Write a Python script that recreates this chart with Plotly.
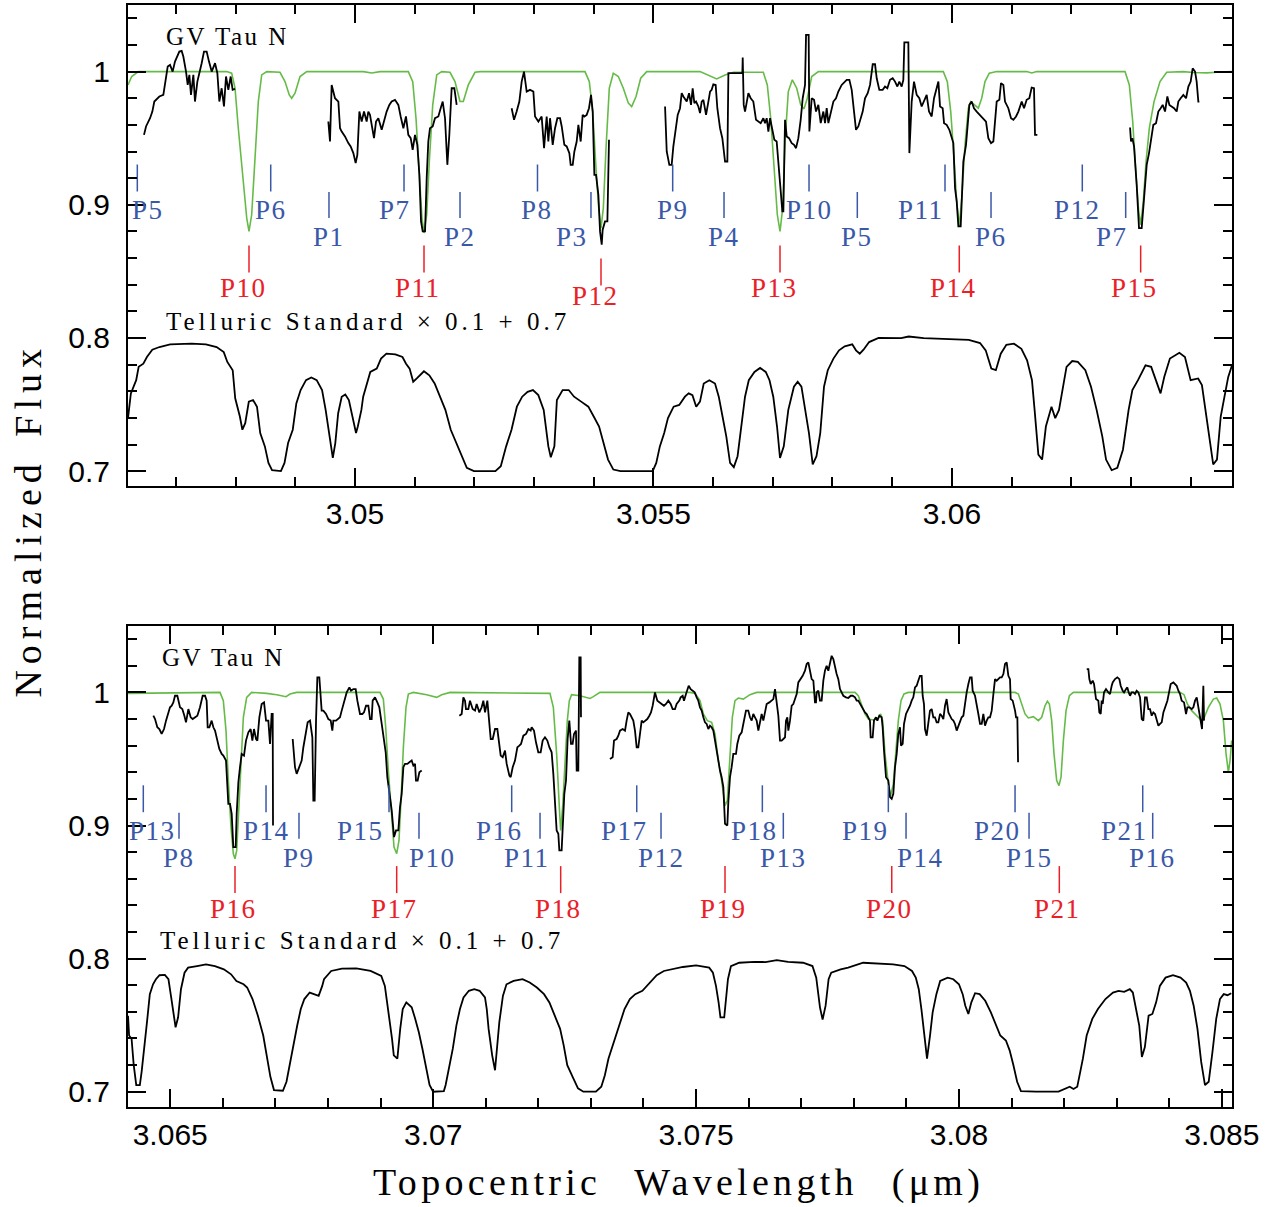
import plotly.graph_objects as go

# ----------------------------------------------------------------- data
# GV Tau N spectrum, top panel (wavelength um, normalized flux); one list per contiguous piece
top_star_1 = [(3.046466,0.9525),(3.046500,0.9588),(3.046567,0.965),(3.046606,0.97),(3.046639,0.9775),(3.046689,0.98),(3.046723,0.9813),(3.046790,0.9825),(3.046829,0.995),(3.046863,1.0038),(3.046902,1.005),(3.046946,1.0),(3.046985,1.0075),(3.047024,1.0113),(3.047058,1.015),(3.047097,1.0155),(3.047125,1.0113),(3.047170,1.0),(3.047198,0.99),(3.047226,0.9975),(3.047253,0.9825),(3.047293,0.9975),(3.047320,0.9775),(3.047360,0.9925),(3.047404,1.0),(3.047432,1.0063),(3.047471,1.015),(3.047516,1.015),(3.047555,1.0075),(3.047600,1.0),(3.047656,1.0063),(3.047695,0.9988),(3.047728,0.9775),(3.047767,0.9875),(3.047806,0.9738),(3.047840,0.9963),(3.047879,0.9863),(3.047918,0.9963),(3.047951,0.9863),(3.047991,0.987)]
top_star_2 = [(3.049554,0.9625),(3.049582,0.9475),(3.049610,0.99),(3.049666,0.98),(3.049722,0.9775),(3.049750,0.9575),(3.049778,0.955),(3.049833,0.9513),(3.049889,0.9463),(3.049928,0.9438),(3.049973,0.9388),(3.050012,0.9313),(3.050040,0.9375),(3.050074,0.97),(3.050113,0.9625),(3.050152,0.97),(3.050196,0.9625),(3.050224,0.97),(3.050252,0.9675),(3.050291,0.9575),(3.050319,0.95),(3.050353,0.9625),(3.050392,0.965),(3.050448,0.9563),(3.050487,0.9625),(3.050531,0.97),(3.050576,0.975),(3.050615,0.9775),(3.050671,0.9788),(3.050727,0.975),(3.050766,0.9663),(3.050811,0.9575),(3.050855,0.9663),(3.050894,0.9525),(3.050934,0.95),(3.050967,0.9413),(3.051006,0.9525),(3.051045,0.945),(3.051079,0.9225),(3.051107,0.8875),(3.051135,0.88),(3.051174,0.88),(3.051202,0.92),(3.051229,0.9475),(3.051257,0.9575),(3.051302,0.9588),(3.051341,0.965),(3.051397,0.9663),(3.051436,0.9725),(3.051470,0.9775),(3.051509,0.965),(3.051548,0.93),(3.051581,0.9525),(3.051620,0.9875),(3.051665,0.9875),(3.051704,0.975)]
top_star_3 = [(3.052625,0.9725),(3.052665,0.9638),(3.052709,0.97),(3.052754,0.9775),(3.052793,0.9925),(3.052832,1.0),(3.052877,0.985),(3.052933,0.9863),(3.052989,0.985),(3.053017,0.9663),(3.053073,0.9625),(3.053128,0.9663),(3.053168,0.9425),(3.053212,0.9663),(3.053240,0.9475),(3.053268,0.965),(3.053313,0.945),(3.053352,0.9575),(3.053391,0.965),(3.053436,0.965),(3.053464,0.9588),(3.053508,0.945),(3.053547,0.9438),(3.053592,0.9388),(3.053614,0.93),(3.053648,0.93),(3.053676,0.94),(3.053715,0.9475),(3.053743,0.96),(3.053782,0.9475),(3.053815,0.9675),(3.053843,0.9663),(3.053882,0.9675),(3.053921,0.9725),(3.053955,0.9825),(3.053983,0.97),(3.054011,0.9225),(3.054039,0.9225),(3.054078,0.9075),(3.054106,0.88),(3.054134,0.87),(3.054150,0.8813),(3.054189,0.8875),(3.054229,0.8875),(3.054256,0.9488)]
top_star_4 = [(3.055195,0.9738),(3.055223,0.94),(3.055267,0.93),(3.055306,0.93),(3.055334,0.9438),(3.055373,0.9575),(3.055407,0.9675),(3.055446,0.9725),(3.055474,0.9838),(3.055502,0.9813),(3.055530,0.9788),(3.055558,0.9775),(3.055597,0.9838),(3.055630,0.975),(3.055658,0.9875),(3.055686,0.9763),(3.055714,0.9775),(3.055753,0.9738),(3.055781,0.9688),(3.055809,0.9775),(3.055837,0.9788),(3.055882,0.9675),(3.055921,0.9775),(3.055949,0.985),(3.055976,0.9863),(3.056004,0.9905),(3.056043,0.99),(3.056071,0.9725),(3.056116,0.9575),(3.056155,0.95),(3.056200,0.9325),(3.056239,0.9325),(3.056256,0.9988),(3.056490,0.9988),(3.056496,1.0105),(3.056513,0.975),(3.056535,0.97),(3.056591,0.9838),(3.056630,0.98),(3.056674,0.9775),(3.056719,0.9638),(3.056758,0.9625),(3.056797,0.9613),(3.056842,0.965),(3.056870,0.9613),(3.056898,0.965),(3.056926,0.955),(3.056954,0.965),(3.056993,0.955),(3.057026,0.9488),(3.057065,0.9475),(3.057093,0.9325),(3.057132,0.9125),(3.057160,0.895),(3.057177,0.895),(3.057205,0.9638),(3.057233,0.9513),(3.057272,0.95),(3.057317,0.9463),(3.057356,0.945),(3.057389,0.9425),(3.057428,0.95),(3.057467,0.9638),(3.057501,0.98),(3.057540,0.99),(3.057557,1.0275),(3.057601,1.0275),(3.057613,0.955),(3.057652,0.98),(3.057691,0.9788),(3.057724,0.97),(3.057763,0.975),(3.057803,0.9613),(3.057847,0.97),(3.057875,0.9613),(3.057903,0.9725),(3.057931,0.9613),(3.057970,0.97),(3.058015,0.9775),(3.058059,0.98),(3.058098,0.985),(3.058154,0.99),(3.058199,0.9925),(3.058238,0.9938),(3.058283,0.9938),(3.058322,0.9863),(3.058361,0.97),(3.058394,0.9563),(3.058433,0.9588),(3.058473,0.965),(3.058506,0.97),(3.058545,0.98),(3.058590,0.9838),(3.058629,0.99),(3.058674,1.0055),(3.058713,1.0055),(3.058741,0.995),(3.058785,0.9863),(3.058841,0.9863),(3.058880,0.9888),(3.058919,0.9875),(3.058964,0.9938),(3.059009,0.995),(3.059048,0.9925),(3.059087,0.9888),(3.059120,0.9925),(3.059159,0.9888),(3.059187,0.9938),(3.059204,1.022),(3.059271,1.022),(3.059288,0.9388),(3.059327,0.9775),(3.059366,0.9925),(3.059411,0.9825),(3.059455,0.98),(3.059494,0.9738),(3.059534,0.9775),(3.059578,0.9825),(3.059617,0.97),(3.059662,0.9663),(3.059701,0.98),(3.059774,0.9925),(3.059802,0.9738),(3.059846,0.9725),(3.059869,0.9613),(3.059913,0.96),(3.059958,0.9563),(3.059997,0.9513),(3.060025,0.9463),(3.060053,0.9125),(3.060081,0.9025),(3.060109,0.8838),(3.060148,0.8838),(3.060165,0.9025),(3.060192,0.9325),(3.060237,0.945),(3.060265,0.9575),(3.060293,0.975),(3.060332,0.9775),(3.060371,0.9725),(3.060416,0.97),(3.060472,0.9675),(3.060527,0.965),(3.060572,0.9625),(3.060611,0.95),(3.060656,0.9463),(3.060695,0.9475),(3.060723,0.9625),(3.060751,0.9775),(3.060796,0.9788),(3.060823,0.9913),(3.060863,0.99),(3.060890,0.9775),(3.060946,0.9725),(3.060991,0.965),(3.061030,0.9638),(3.061075,0.9663),(3.061114,0.97),(3.061142,0.9738),(3.061170,0.9775),(3.061209,0.9725),(3.061253,0.9788),(3.061298,0.98),(3.061337,0.988),(3.061376,0.9875),(3.061393,0.9525),(3.061432,0.9525)]
top_star_5 = [(3.062985,0.958),(3.063001,0.9475),(3.063024,0.95),(3.063052,0.9438),(3.063096,0.915),(3.063135,0.8825),(3.063180,0.8825),(3.063208,0.9),(3.063236,0.9163),(3.063264,0.93),(3.063303,0.9388),(3.063336,0.95),(3.063375,0.96),(3.063420,0.9613),(3.063459,0.97),(3.063498,0.9725),(3.063532,0.975),(3.063571,0.97),(3.063610,0.9813),(3.063644,0.975),(3.063683,0.9738),(3.063722,0.9725),(3.063766,0.97),(3.063794,0.9775),(3.063833,0.98),(3.063878,0.9825),(3.063923,0.98),(3.063962,0.9888),(3.064001,0.9925),(3.064034,1.0025),(3.064074,1.0),(3.064101,0.9925),(3.064129,0.9775),(3.064146,0.9775)]

# GV Tau N spectrum, bottom panel
bot_star_1 = [(3.064679,0.9825),(3.064711,0.98),(3.064755,0.9738),(3.064793,0.9725),(3.064837,0.9688),(3.064882,0.9725),(3.064920,0.9788),(3.064964,0.985),(3.064996,0.9888),(3.065028,0.99),(3.065059,0.9925),(3.065091,0.9975),(3.065135,0.9975),(3.065186,0.9888),(3.065230,0.9875),(3.065269,0.9825),(3.065300,0.9775),(3.065345,0.9875),(3.065389,0.9813),(3.065427,0.98),(3.065471,0.9813),(3.065516,0.9825),(3.065566,0.9888),(3.065617,0.9975),(3.065662,0.9975),(3.065693,0.9938),(3.065712,0.9738),(3.065744,0.9738),(3.065788,0.9788),(3.065820,0.9738),(3.065852,0.9713),(3.065896,0.965),(3.065934,0.9575),(3.065979,0.9538),(3.066010,0.9525),(3.066061,0.9488),(3.066105,0.9163),(3.066137,0.9163),(3.066169,0.9088),(3.066200,0.8838),(3.066245,0.8838),(3.066264,0.9088),(3.066296,0.9325),(3.066327,0.9438),(3.066359,0.9538),(3.066403,0.9525),(3.066441,0.9638),(3.066486,0.97),(3.066530,0.9725),(3.066562,0.9638),(3.066593,0.9725),(3.066632,0.965),(3.066657,0.9638),(3.066695,0.9813),(3.066739,0.9913),(3.066784,0.9925),(3.066822,0.9788),(3.066866,0.9788),(3.066898,0.9613),(3.066929,0.9838),(3.066949,0.9838),(3.066955,0.9)]
bot_star_2 = [(3.067329,0.965),(3.067373,0.9438),(3.067405,0.9388),(3.067449,0.9438),(3.067500,0.9488),(3.067532,0.9588),(3.067582,0.9688),(3.067614,0.9775),(3.067659,0.9788),(3.067703,0.9663),(3.067722,0.9188),(3.067747,0.9188),(3.067773,0.9788),(3.067798,1.0113),(3.067836,1.0113),(3.067849,1.0013),(3.067880,0.9863),(3.067912,0.9863),(3.067963,0.9838),(3.068007,0.98),(3.068052,0.9788),(3.068083,0.9713),(3.068102,0.9788),(3.068153,0.9788),(3.068197,0.98),(3.068229,0.9813),(3.068261,0.9863),(3.068305,0.9925),(3.068356,1.0),(3.068407,1.0038),(3.068438,1.0013),(3.068483,1.0025),(3.068527,1.0025),(3.068559,0.9938),(3.068609,0.9838),(3.068654,0.9838),(3.068685,0.985),(3.068724,0.99),(3.068768,0.99),(3.068800,0.98),(3.068831,0.98),(3.068850,0.9938),(3.068895,0.9963),(3.068939,0.9925),(3.068977,0.9888),(3.069022,0.9763),(3.069053,0.9688),(3.069098,0.955),(3.069129,0.9363),(3.069167,0.9263),(3.069212,0.9113),(3.069256,0.8913),(3.069294,0.8963),(3.069339,0.8963),(3.069370,0.9138),(3.069402,0.9238),(3.069434,0.9438),(3.069465,0.9463),(3.069510,0.9463),(3.069548,0.9475),(3.069592,0.9488),(3.069624,0.945),(3.069656,0.9463),(3.069674,0.9338),(3.069706,0.9338),(3.069738,0.94),(3.069782,0.9413)]
bot_star_3 = [(3.070499,0.9825),(3.070543,0.9838),(3.070575,0.9963),(3.070606,0.9938),(3.070625,0.9875),(3.070670,0.9875),(3.070701,0.9938),(3.070752,0.9875),(3.070797,0.9863),(3.070828,0.9913),(3.070879,0.985),(3.070923,0.9888),(3.070955,0.9938),(3.070987,0.985),(3.071031,0.9938),(3.071063,0.98),(3.071095,0.965),(3.071133,0.965),(3.071177,0.9725),(3.071221,0.9725),(3.071259,0.96),(3.071285,0.9525),(3.071323,0.9513),(3.071367,0.9563),(3.071399,0.9463),(3.071450,0.9375),(3.071475,0.9363),(3.071513,0.9438),(3.071557,0.9488),(3.071602,0.9588),(3.071640,0.96),(3.071671,0.9613),(3.071716,0.9675),(3.071767,0.9688),(3.071811,0.9725),(3.071855,0.9713),(3.071874,0.9738),(3.071918,0.9713),(3.071956,0.9625),(3.072000,0.955),(3.072045,0.955),(3.072083,0.9638),(3.072127,0.9663),(3.072172,0.9638),(3.072210,0.9588),(3.072254,0.955),(3.072286,0.9388),(3.072317,0.9213),(3.072349,0.8963),(3.072381,0.8938),(3.072400,0.8813),(3.072444,0.8813),(3.072463,0.8938),(3.072495,0.9238),(3.072527,0.9338),(3.072558,0.965),(3.072590,0.9788),(3.072622,0.9613),(3.072653,0.9613),(3.072679,0.9688),(3.072717,0.9713),(3.072730,0.9413),(3.072761,0.9413),(3.072780,1.0263),(3.072806,1.0263),(3.072812,0.9813)]
bot_star_4 = [(3.073363,0.95),(3.073414,0.9513),(3.073440,0.9638),(3.073490,0.965),(3.073522,0.9675),(3.073554,0.9713),(3.073604,0.9725),(3.073649,0.9713),(3.073680,0.9788),(3.073712,0.985),(3.073744,0.9838),(3.073776,0.9813),(3.073807,0.9788),(3.073839,0.9713),(3.073871,0.9588),(3.073902,0.9588),(3.073934,0.9675),(3.073966,0.9788),(3.073997,0.9775),(3.074029,0.9788),(3.074073,0.98),(3.074112,0.9825),(3.074143,0.985),(3.074175,0.99),(3.074219,1.0),(3.074264,0.9938),(3.074302,0.9925),(3.074346,0.9913),(3.074390,0.99),(3.074429,0.9913),(3.074473,0.9938),(3.074517,0.9913),(3.074555,0.9875),(3.074600,0.9875),(3.074631,0.9913),(3.074682,0.9938),(3.074707,0.9963),(3.074746,0.9975),(3.074771,0.9938),(3.074809,0.9988),(3.074834,1.0013),(3.074860,1.005),(3.074898,1.0025),(3.074936,1.0013),(3.074974,1.0),(3.075012,0.9963),(3.075043,0.9938),(3.075075,0.9888),(3.075107,0.9863),(3.075139,0.9813),(3.075170,0.9775),(3.075202,0.9763),(3.075234,0.9725),(3.075265,0.975),(3.075297,0.9738),(3.075329,0.9713),(3.075360,0.9638),(3.075392,0.9538),(3.075424,0.9488),(3.075456,0.9413),(3.075487,0.9363),(3.075519,0.9288),(3.075551,0.9013),(3.075595,0.9),(3.075614,0.9175),(3.075646,0.9363),(3.075677,0.9438),(3.075709,0.9538),(3.075760,0.9538),(3.075785,0.9613),(3.075823,0.9675),(3.075868,0.97),(3.075899,0.9763),(3.075950,0.9863),(3.075994,0.9863),(3.076026,0.9813),(3.076058,0.9788),(3.076089,0.9838),(3.076121,0.9813),(3.076153,0.9788),(3.076185,0.9713),(3.076216,0.9788),(3.076248,0.9838),(3.076280,0.9788),(3.076311,0.9863),(3.076343,0.9913),(3.076394,0.9925),(3.076438,0.9938),(3.076470,0.995),(3.076502,1.0025),(3.076533,0.9938),(3.076565,0.9825),(3.076597,0.9638),(3.076628,0.9638),(3.076660,0.965),(3.076692,0.9663),(3.076711,0.9788),(3.076736,0.9813),(3.076755,0.9713),(3.076787,0.9788),(3.076819,0.99),(3.076850,0.9913),(3.076882,0.995),(3.076914,0.9988),(3.076945,1.0075),(3.076990,1.01),(3.077028,1.0125),(3.077072,1.0163),(3.077104,1.0213),(3.077136,1.0225),(3.077167,1.0175),(3.077199,1.01),(3.077231,1.0088),(3.077262,0.9925),(3.077281,0.9925),(3.077294,1.0),(3.077326,1.0013),(3.077357,0.9938),(3.077389,0.9938),(3.077421,1.0088),(3.077452,1.0163),(3.077484,1.02),(3.077516,1.0163),(3.077548,1.0225),(3.077579,1.0275),(3.077611,1.025),(3.077643,1.0188),(3.077674,1.0138),(3.077706,1.01),(3.077738,1.0025),(3.077769,1.0),(3.077801,0.9975),(3.077852,0.9963),(3.077896,0.9958),(3.077941,0.9975),(3.077979,0.9975),(3.078023,0.9963),(3.078055,0.9938),(3.078086,0.9938),(3.078118,0.9913),(3.078150,0.9888),(3.078182,0.9863),(3.078213,0.985),(3.078245,0.9838),(3.078277,0.9813),(3.078308,0.9788),(3.078321,0.9663),(3.078359,0.9663),(3.078384,0.9788),(3.078422,0.9813),(3.078448,0.9788),(3.078486,0.9825),(3.078530,0.9813),(3.078549,0.9738),(3.078575,0.9563),(3.078613,0.9363),(3.078657,0.9338),(3.078689,0.9213),(3.078721,0.92),(3.078752,0.9238),(3.078784,0.9438),(3.078816,0.9538),(3.078847,0.9688),(3.078879,0.9738),(3.078898,0.96),(3.078930,0.9613),(3.078955,0.9763),(3.078993,0.9838),(3.079037,0.9875),(3.079069,0.99),(3.079101,0.9938),(3.079132,0.9963),(3.079164,1.0038),(3.079196,1.005),(3.079227,1.0088),(3.079259,1.0125),(3.079291,1.0125),(3.079310,0.9975),(3.079335,0.9913),(3.079354,0.9725),(3.079386,0.9675),(3.079418,0.9788),(3.079449,0.9863),(3.079481,0.9875),(3.079513,0.9813),(3.079544,0.9813),(3.079576,0.9775),(3.079608,0.9775),(3.079640,0.9838),(3.079671,0.9825),(3.079703,0.98),(3.079735,0.99),(3.079766,0.995),(3.079799,0.985),(3.079830,0.9825),(3.079862,0.98),(3.079894,0.9788),(3.079925,0.9763),(3.079957,0.9713),(3.079989,0.975),(3.080021,0.9788),(3.080052,0.9813),(3.080084,0.9825),(3.080116,0.9938),(3.080147,1.0),(3.080179,1.0063),(3.080211,1.0113),(3.080242,1.0113),(3.080261,1.0013),(3.080306,0.9975),(3.080338,0.9888),(3.080369,0.9838),(3.080401,0.9763),(3.080433,0.9763),(3.080464,0.9838),(3.080496,0.975),(3.080528,0.9788),(3.080559,0.9813),(3.080591,0.9813),(3.080623,0.9863),(3.080655,0.9988),(3.080686,1.01),(3.080718,1.0088),(3.080750,1.01),(3.080781,1.0113),(3.080813,1.0113),(3.080845,1.0138),(3.080876,1.0213),(3.080908,1.0225),(3.080940,1.0125),(3.080971,1.01),(3.080984,0.995),(3.081022,0.9938),(3.081067,0.9863),(3.081086,0.9813),(3.081111,0.9813),(3.081124,0.9475)]
bot_star_5 = [(3.082430,1.0175),(3.082461,1.0175),(3.082480,1.01),(3.082506,1.0063),(3.082544,1.0088),(3.082569,1.0063),(3.082607,0.995),(3.082651,0.9938),(3.082670,0.985),(3.082696,0.9838),(3.082715,0.9938),(3.082734,0.9913),(3.082759,1.0),(3.082797,1.0025),(3.082842,1.0),(3.082873,0.9988),(3.082905,1.005),(3.082924,1.0075),(3.082968,1.01),(3.083013,1.0113),(3.083051,1.01),(3.083076,1.005),(3.083114,1.0013),(3.083140,1.0),(3.083178,1.0025),(3.083203,1.0038),(3.083228,1.0),(3.083254,0.9975),(3.083285,1.0),(3.083317,1.0),(3.083349,0.9988),(3.083380,1.0013),(3.083412,1.0),(3.083444,0.9963),(3.083476,0.98),(3.083507,0.9788),(3.083539,0.9963),(3.083571,0.9963),(3.083602,0.9875),(3.083634,0.9875),(3.083666,0.9825),(3.083697,0.985),(3.083729,0.9838),(3.083761,0.98),(3.083793,0.975),(3.083824,0.9763),(3.083856,0.9775),(3.083888,0.985),(3.083919,0.9888),(3.083964,0.9938),(3.084002,1.0013),(3.084027,1.0063),(3.084078,1.0075),(3.084110,1.0063),(3.084141,1.005),(3.084173,1.0013),(3.084205,0.9988),(3.084236,0.9938),(3.084281,0.9925),(3.084319,0.9838),(3.084344,0.9888),(3.084382,0.9888),(3.084427,0.9875),(3.084458,0.9888),(3.084490,0.9938),(3.084522,0.9963),(3.084541,0.9913),(3.084572,0.985),(3.084598,0.98),(3.084623,0.9725),(3.084648,1.005),(3.084661,0.9788)]

# Telluric model (green), normalized flux
top_model = [(3.046198,0.990),(3.046260,0.9963),(3.046371,1.0),(3.047852,1.0),(3.047935,0.9988),(3.047991,0.9875),(3.048046,0.9575),(3.048120,0.92),(3.048187,0.89),(3.048225,0.88),(3.048270,0.8925),(3.048326,0.935),(3.048381,0.9775),(3.048438,0.9975),(3.048522,1.0),(3.048744,0.9995),(3.048828,0.9925),(3.048900,0.9825),(3.048940,0.98),(3.048996,0.9838),(3.049080,0.9963),(3.049192,1.0),(3.050140,1.0),(3.050281,0.999),(3.050420,1.0),(3.050894,1.0),(3.050968,0.9925),(3.051023,0.965),(3.051078,0.9225),(3.051123,0.89),(3.051157,0.8788),(3.051202,0.8925),(3.051246,0.9325),(3.051303,0.975),(3.051370,0.9975),(3.051453,1.0),(3.051592,0.9995),(3.051676,0.9925),(3.051760,0.9775),(3.051815,0.9775),(3.051899,0.99),(3.052011,0.9995),(3.052095,1.0),(3.053854,1.0),(3.053926,0.9925),(3.053983,0.97),(3.054038,0.9275),(3.054084,0.8975),(3.054122,0.8825),(3.054161,0.8975),(3.054206,0.9425),(3.054261,0.9875),(3.054328,0.9988),(3.054412,0.9963),(3.054496,0.9875),(3.054580,0.9763),(3.054636,0.9738),(3.054709,0.9813),(3.054787,0.995),(3.054888,1.0),(3.055781,1.0),(3.055920,0.9975),(3.056060,0.9945),(3.056200,0.9975),(3.056339,0.9995),(3.056841,0.9995),(3.056908,0.99),(3.056965,0.965),(3.057025,0.9275),(3.057076,0.8925),(3.057121,0.88),(3.057166,0.8975),(3.057205,0.9475),(3.057260,0.985),(3.057327,0.9938),(3.057401,0.9875),(3.057468,0.975),(3.057523,0.972),(3.057578,0.98),(3.057652,0.9963),(3.057763,1.0),(3.059857,1.0),(3.059924,0.9925),(3.059981,0.97),(3.060036,0.935),(3.060081,0.9025),(3.060125,0.8838),(3.060170,0.9075),(3.060220,0.945),(3.060276,0.9725),(3.060316,0.9775),(3.060388,0.975),(3.060443,0.9725),(3.060500,0.98),(3.060555,0.9925),(3.060627,0.9988),(3.060751,1.0),(3.061254,1.0),(3.061338,0.999),(3.061421,1.0),(3.062901,1.0),(3.062973,0.99),(3.063030,0.9625),(3.063085,0.9225),(3.063130,0.895),(3.063164,0.885),(3.063207,0.9025),(3.063253,0.9325),(3.063308,0.9575),(3.063387,0.9775),(3.063487,0.9925),(3.063599,0.9995),(3.063877,1.0),(3.064045,0.9993),(3.064269,0.999),(3.064437,0.9995),(3.064693,1.0)]
bot_model = [(3.064197,0.9993),(3.065947,1.0),(3.066010,0.9938),(3.066061,0.9713),(3.066105,0.9338),(3.066156,0.8988),(3.066200,0.8788),(3.066232,0.875),(3.066264,0.8813),(3.066296,0.9088),(3.066340,0.9488),(3.066391,0.9813),(3.066454,0.9963),(3.066549,1.0),(3.066834,0.9993),(3.067025,0.9983),(3.067202,0.9968),(3.067278,0.9988),(3.067405,1.0),(3.068990,1.0),(3.069053,0.995),(3.069098,0.9738),(3.069148,0.9413),(3.069212,0.9038),(3.069256,0.8838),(3.069307,0.8788),(3.069351,0.8888),(3.069389,0.9188),(3.069434,0.9588),(3.069484,0.9888),(3.069529,0.9988),(3.069624,1.0),(3.069877,0.9983),(3.070068,0.9963),(3.070163,0.9983),(3.070321,1.0),(3.072222,0.9993),(3.072286,0.9888),(3.072349,0.9538),(3.072400,0.9138),(3.072425,0.8963),(3.072463,0.9138),(3.072508,0.9488),(3.072552,0.9788),(3.072590,0.9938),(3.072634,0.9983),(3.072793,0.9975),(3.072920,0.9963),(3.072983,0.9955),(3.073047,0.9968),(3.073173,1.0),(3.074885,1.0),(3.074980,0.9993),(3.075075,0.9938),(3.075139,0.9838),(3.075215,0.9788),(3.075297,0.9775),(3.075360,0.9688),(3.075424,0.9488),(3.075487,0.9338),(3.075551,0.915),(3.075595,0.9188),(3.075646,0.9488),(3.075690,0.9813),(3.075741,0.9938),(3.075804,0.9958),(3.075899,0.995),(3.076026,0.9983),(3.076153,1.0),(3.078023,1.0),(3.078086,0.9975),(3.078150,0.99),(3.078213,0.9838),(3.078277,0.98),(3.078372,0.9793),(3.078467,0.9808),(3.078511,0.9838),(3.078549,0.9788),(3.078594,0.9538),(3.078657,0.9313),(3.078701,0.9225),(3.078752,0.9313),(3.078796,0.9538),(3.078847,0.9788),(3.078898,0.9938),(3.078955,0.9988),(3.079037,1.0),(3.081067,1.0),(3.081130,0.9988),(3.081193,0.9913),(3.081257,0.9838),(3.081320,0.9808),(3.081415,0.9818),(3.081510,0.9788),(3.081574,0.9813),(3.081637,0.99),(3.081682,0.9933),(3.081720,0.9913),(3.081764,0.9788),(3.081808,0.9538),(3.081859,0.9338),(3.081903,0.93),(3.081941,0.9363),(3.081986,0.9638),(3.082037,0.9863),(3.082100,0.9975),(3.082176,1.0),(3.084205,1.0),(3.084281,0.9983),(3.084344,0.9913),(3.084427,0.9863),(3.084522,0.9825),(3.084617,0.9788),(3.084661,0.9808),(3.084744,0.9888),(3.084839,0.995),(3.084902,0.9958),(3.084965,0.9913),(3.085029,0.9788),(3.085080,0.9538),(3.085124,0.94),(3.085156,0.9488),(3.085187,0.9638)]

# Telluric standard star, raw normalized transmission (plotted as x0.1 + 0.7)
top_tell = [(3.046198,0.398),(3.046246,0.584),(3.046335,0.683),(3.046377,0.783),(3.046455,0.807),(3.046515,0.857),(3.046605,0.912),(3.046725,0.932),(3.046904,0.952),(3.047263,0.957),(3.047503,0.952),(3.047683,0.932),(3.047802,0.894),(3.047862,0.820),(3.047952,0.758),(3.047994,0.547),(3.048072,0.410),(3.048114,0.311),(3.048162,0.360),(3.048222,0.522),(3.048293,0.534),(3.048359,0.484),(3.048413,0.286),(3.048491,0.186),(3.048551,0.062),(3.048611,0.007),(3.048760,0.000),(3.048820,0.062),(3.048880,0.211),(3.048958,0.311),(3.049018,0.509),(3.049090,0.609),(3.049180,0.683),(3.049269,0.703),(3.049359,0.683),(3.049449,0.609),(3.049509,0.460),(3.049551,0.335),(3.049599,0.186),(3.049629,0.099),(3.049671,0.211),(3.049719,0.435),(3.049778,0.559),(3.049838,0.576),(3.049898,0.534),(3.049958,0.410),(3.050018,0.286),(3.050048,0.335),(3.050108,0.460),(3.050138,0.559),(3.050198,0.658),(3.050257,0.745),(3.050365,0.770),(3.050437,0.845),(3.050527,0.882),(3.050677,0.877),(3.050796,0.857),(3.050856,0.807),(3.050916,0.770),(3.050976,0.671),(3.051036,0.696),(3.051156,0.750),(3.051246,0.720),(3.051335,0.658),(3.051425,0.559),(3.051515,0.460),(3.051605,0.311),(3.051725,0.186),(3.051784,0.112),(3.051874,0.025),(3.051994,0.000),(3.052353,0.000),(3.052443,0.037),(3.052533,0.186),(3.052623,0.311),(3.052713,0.484),(3.052802,0.559),(3.052892,0.596),(3.052982,0.609),(3.053072,0.571),(3.053162,0.460),(3.053192,0.335),(3.053240,0.186),(3.053281,0.104),(3.053341,0.186),(3.053383,0.534),(3.053479,0.609),(3.053581,0.609),(3.053671,0.559),(3.053790,0.522),(3.053910,0.484),(3.054000,0.410),(3.054090,0.335),(3.054150,0.236),(3.054240,0.087),(3.054329,0.012),(3.054449,0.000),(3.054988,0.000),(3.055048,0.062),(3.055108,0.186),(3.055181,0.286),(3.055244,0.398),(3.055339,0.484),(3.055433,0.497),(3.055528,0.559),(3.055591,0.584),(3.055654,0.571),(3.055717,0.484),(3.055780,0.522),(3.055843,0.658),(3.055937,0.683),(3.056032,0.658),(3.056095,0.559),(3.056158,0.410),(3.056221,0.261),(3.056284,0.062),(3.056347,0.030),(3.056410,0.112),(3.056473,0.335),(3.056535,0.559),(3.056598,0.683),(3.056693,0.745),(3.056787,0.775),(3.056882,0.745),(3.056945,0.683),(3.057008,0.559),(3.057071,0.335),(3.057121,0.099),(3.057184,0.186),(3.057260,0.460),(3.057354,0.634),(3.057417,0.671),(3.057480,0.634),(3.057543,0.460),(3.057606,0.286),(3.057669,0.050),(3.057732,0.112),(3.057795,0.286),(3.057858,0.634),(3.057921,0.758),(3.058016,0.845),(3.058110,0.907),(3.058205,0.937),(3.058331,0.952),(3.058394,0.907),(3.058457,0.882),(3.058520,0.912),(3.058614,0.969),(3.058772,1.001),(3.059150,0.999),(3.059276,1.011),(3.059528,0.999),(3.059906,0.994),(3.060283,0.986),(3.060472,0.962),(3.060567,0.907),(3.060661,0.770),(3.060737,0.758),(3.060819,0.882),(3.060913,0.949),(3.061039,0.957),(3.061165,0.919),(3.061260,0.832),(3.061342,0.683),(3.061386,0.460),(3.061449,0.124),(3.061512,0.087),(3.061575,0.335),(3.061669,0.484),(3.061732,0.398),(3.061795,0.460),(3.061858,0.634),(3.061921,0.783),(3.062016,0.827),(3.062110,0.820),(3.062236,0.758),(3.062331,0.634),(3.062425,0.460),(3.062520,0.261),(3.062583,0.087),(3.062677,0.007),(3.062772,0.025),(3.062866,0.161),(3.062961,0.460),(3.063024,0.609),(3.063118,0.683),(3.063244,0.795),(3.063339,0.783),(3.063433,0.671),(3.063496,0.584),(3.063559,0.708),(3.063653,0.845),(3.063811,0.889),(3.063905,0.857),(3.064000,0.683),(3.064126,0.696),(3.064189,0.646),(3.064252,0.435),(3.064315,0.261),(3.064378,0.050),(3.064441,0.087),(3.064504,0.410),(3.064567,0.559),(3.064630,0.708),(3.064693,0.795)]
bot_tell = [(3.064197,0.571),(3.064218,0.422),(3.064265,0.398),(3.064306,0.199),(3.064354,0.050),(3.064422,0.050),(3.064456,0.149),(3.064510,0.323),(3.064558,0.522),(3.064612,0.733),(3.064673,0.807),(3.064728,0.845),(3.064796,0.875),(3.064898,0.877),(3.064966,0.845),(3.065014,0.720),(3.065068,0.571),(3.065102,0.484),(3.065150,0.559),(3.065204,0.770),(3.065272,0.894),(3.065340,0.932),(3.065510,0.944),(3.065680,0.957),(3.065850,0.944),(3.066020,0.919),(3.066157,0.882),(3.066259,0.832),(3.066395,0.807),(3.066463,0.783),(3.066565,0.696),(3.066667,0.571),(3.066769,0.422),(3.066837,0.273),(3.066905,0.112),(3.066973,0.012),(3.067143,0.007),(3.067211,0.075),(3.067279,0.224),(3.067347,0.373),(3.067415,0.497),(3.067483,0.621),(3.067551,0.696),(3.067653,0.745),(3.067755,0.733),(3.067823,0.720),(3.067891,0.795),(3.067925,0.845),(3.068061,0.907),(3.068265,0.924),(3.068538,0.927),(3.068810,0.907),(3.069014,0.870),(3.069082,0.795),(3.069116,0.696),(3.069184,0.522),(3.069218,0.398),(3.069252,0.273),(3.069320,0.248),(3.069374,0.472),(3.069422,0.621),(3.069490,0.671),(3.069592,0.634),(3.069660,0.547),(3.069728,0.447),(3.069796,0.323),(3.069864,0.199),(3.069932,0.050),(3.070000,0.000),(3.070204,0.005),(3.070238,0.050),(3.070306,0.174),(3.070374,0.323),(3.070442,0.497),(3.070510,0.621),(3.070578,0.708),(3.070680,0.758),(3.070782,0.770),(3.070884,0.758),(3.070986,0.708),(3.071020,0.621),(3.071055,0.472),(3.071123,0.273),(3.071177,0.161),(3.071225,0.348),(3.071259,0.522),(3.071327,0.720),(3.071395,0.807),(3.071531,0.832),(3.071701,0.845),(3.071837,0.820),(3.071973,0.783),(3.072109,0.733),(3.072211,0.671),(3.072313,0.571),(3.072415,0.472),(3.072483,0.348),(3.072551,0.199),(3.072653,0.112),(3.072755,0.025),(3.072857,0.000),(3.073095,0.000),(3.073198,0.037),(3.073266,0.124),(3.073334,0.248),(3.073436,0.373),(3.073538,0.497),(3.073640,0.621),(3.073742,0.696),(3.073844,0.733),(3.073980,0.758),(3.074116,0.820),(3.074252,0.875),(3.074388,0.907),(3.074524,0.919),(3.074750,0.937),(3.075000,0.949),(3.075250,0.932),(3.075321,0.894),(3.075379,0.795),(3.075429,0.671),(3.075464,0.559),(3.075536,0.559),(3.075571,0.683),(3.075607,0.845),(3.075664,0.944),(3.075821,0.969),(3.076107,0.976),(3.076321,0.974),(3.076536,0.989),(3.076750,0.976),(3.077036,0.969),(3.077214,0.944),(3.077286,0.857),(3.077357,0.634),(3.077407,0.542),(3.077464,0.646),(3.077521,0.845),(3.077571,0.894),(3.077750,0.919),(3.077893,0.932),(3.078179,0.969),(3.078464,0.962),(3.078750,0.957),(3.078964,0.944),(3.079107,0.907),(3.079179,0.857),(3.079236,0.770),(3.079286,0.621),(3.079343,0.422),(3.079393,0.248),(3.079450,0.422),(3.079500,0.596),(3.079571,0.733),(3.079643,0.832),(3.079786,0.857),(3.079893,0.845),(3.080000,0.807),(3.080071,0.733),(3.080121,0.646),(3.080179,0.584),(3.080236,0.671),(3.080307,0.740),(3.080393,0.733),(3.080500,0.683),(3.080607,0.596),(3.080714,0.497),(3.080786,0.422),(3.080893,0.385),(3.080964,0.311),(3.081036,0.199),(3.081107,0.075),(3.081179,0.005),(3.081464,0.000),(3.081893,0.000),(3.082036,0.025),(3.082107,0.037),(3.082179,0.020),(3.082250,0.037),(3.082307,0.149),(3.082357,0.248),(3.082429,0.422),(3.082536,0.547),(3.082643,0.621),(3.082786,0.696),(3.082929,0.745),(3.083036,0.758),(3.083143,0.750),(3.083250,0.770),(3.083307,0.745),(3.083357,0.646),(3.083429,0.497),(3.083479,0.261),(3.083536,0.335),(3.083607,0.571),(3.083679,0.584),(3.083750,0.671),(3.083821,0.795),(3.083929,0.857),(3.084071,0.875),(3.084214,0.857),(3.084321,0.820),(3.084393,0.758),(3.084464,0.646),(3.084536,0.472),(3.084607,0.224),(3.084679,0.050),(3.084750,0.075),(3.084821,0.298),(3.084893,0.547),(3.084964,0.696),(3.085036,0.733),(3.085107,0.725),(3.085179,0.740)]
TELL_SCALE, TELL_OFFSET = 0.1, 0.7

# Line identifications (wavelength, um)
top_red_labels = ["P10", "P11", "P12", "P13", "P14", "P15"]
top_red_wl = [3.048225, 3.051157, 3.054122, 3.057121, 3.060124, 3.063163]
top_blue1_labels = ["P5", "P6", "P7", "P8", "P9", "P10", "P11", "P12"]
top_blue1_wl = [3.046354, 3.048589, 3.050822, 3.053058, 3.055323, 3.057607, 3.059885, 3.062185]
top_blue2_labels = ["P1", "P2", "P3", "P4", "P5", "P6", "P7"]
top_blue2_wl = [3.049565, 3.051760, 3.053954, 3.056183, 3.058416, 3.060656, 3.062912]

bot_red_labels = ["P16", "P17", "P18", "P19", "P20", "P21"]
bot_red_wl = [3.066232, 3.069307, 3.072426, 3.075551, 3.078722, 3.081909]
bot_blue1_labels = ["P13", "P14", "P15", "P16", "P17", "P18", "P19", "P20", "P21"]
bot_blue1_wl = [3.064488, 3.066822, 3.069161, 3.071494, 3.073872, 3.076261, 3.078657, 3.081067, 3.083495]
bot_blue2_labels = ["P8", "P9", "P10", "P11", "P12", "P13", "P14", "P15", "P16"]
bot_blue2_wl = [3.065167, 3.067449, 3.069731, 3.072033, 3.074334, 3.076660, 3.078994, 3.081333, 3.083685]

# ----------------------------------------------------------------- style
BLUE = "#3a58a8"
RED = "#ea2027"
GREEN = "#66bb48"
SERIF = "Liberation Serif"

# label nudges (px) so labels don't collide
top_red_dx = [-6, -6, -6, -6, -6, -6]
top_red_dy = [0, 0, -13, 0, 0, 0]
top_blue1_dx = [11, 0, -9, 0, 0, 0, -24, -5]
top_blue2_dx = [0, 0, -19, 0, 0, 0, -14]
bot_red_dx = [-2, -2, -2, -2, -2, -2]
bot_red_dy = [0, 0, 0, 0, 0, 0]
bot_blue1_dx = [9, 0, -29, -12, -12, -8, -23, -18, -18]
bot_blue2_dx = [0, 0, 14, -13, 0, 0, 14, 0, 0]

PX = 1333.3  # px per flux unit (vertical)


def join(segs):
    xs, ys = [], []
    for s in segs:
        if xs:
            xs.append(None)
            ys.append(None)
        xs += [p[0] for p in s]
        ys += [p[1] for p in s]
    return xs, ys


fig = go.Figure()
annos = []


def spaced(t, ls, ws=0):
    return f'<span style="letter-spacing:{ls}px;word-spacing:{ws}px">{t}</span>'


def panel(xa, ya, star, model, tell, red, blue1, blue2):
    xr = "x" if xa == "xaxis" else "x2"
    yr = "y" if ya == "yaxis" else "y2"
    mx, my = join([model])
    fig.add_trace(go.Scatter(x=mx, y=my, mode="lines", line=dict(color=GREEN, width=1.6),
                             xaxis=xr, yaxis=yr, showlegend=False, hoverinfo="skip"))
    sx, sy = join(star)
    fig.add_trace(go.Scatter(x=sx, y=sy, mode="lines", line=dict(color="black", width=1.8),
                             connectgaps=False, xaxis=xr, yaxis=yr, showlegend=False, hoverinfo="skip"))
    tx = [p[0] for p in tell]
    ty = [p[1] * TELL_SCALE + TELL_OFFSET for p in tell]
    fig.add_trace(go.Scatter(x=tx, y=ty, mode="lines", line=dict(color="black", width=1.8),
                             xaxis=xr, yaxis=yr, showlegend=False, hoverinfo="skip"))
    rows = [
        (blue1, BLUE, 0.9302, 0.9100, 0.8958),
        (blue2, BLUE, 0.9095, 0.8900, 0.8755),
        (red, RED, 0.8695, 0.8492, 0.8372),
    ]
    for (labels, wls, dxs, dys), col, y0, y1, yl in rows:
        lx, ly = [], []
        for lab, w, dx, dy in zip(labels, wls, dxs, dys):
            off = dy / PX
            lx += [w, w, None]
            ly += [y0 + off, y1 + off, None]
            annos.append(dict(x=w, y=yl + (dy * 0.55) / PX, xref=xr, yref=yr, text=spaced(lab, 1.5),
                              showarrow=False, xshift=dx, xanchor="center", yanchor="middle",
                              borderpad=0, font=dict(family=SERIF, size=27, color=col)))
        fig.add_trace(go.Scatter(x=lx, y=ly, mode="lines", line=dict(color=col, width=1.5),
                                 xaxis=xr, yaxis=yr, showlegend=False, hoverinfo="skip"))


panel("xaxis", "yaxis",
      [top_star_1, top_star_2, top_star_3, top_star_4, top_star_5], top_model, top_tell,
      (top_red_labels, top_red_wl, top_red_dx, top_red_dy),
      (top_blue1_labels, top_blue1_wl, top_blue1_dx, [0] * len(top_blue1_wl)),
      (top_blue2_labels, top_blue2_wl, top_blue2_dx, [0] * len(top_blue2_wl)))
panel("xaxis2", "yaxis2",
      [bot_star_1, bot_star_2, bot_star_3, bot_star_4, bot_star_5], bot_model, bot_tell,
      (bot_red_labels, bot_red_wl, bot_red_dx, bot_red_dy),
      (bot_blue1_labels, bot_blue1_wl, bot_blue1_dx, [0] * len(bot_blue1_wl)),
      (bot_blue2_labels, bot_blue2_wl, bot_blue2_dx, [0] * len(bot_blue2_wl)))

gv_font = dict(family=SERIF, size=25, color="black")
annos.append(dict(x=0.0335, y=1.026, xref="x domain", yref="y", text=spaced("GV Tau N", 2.5),
                  showarrow=False, xanchor="left", yanchor="middle", borderpad=0, font=gv_font))
annos.append(dict(x=0.0296, y=1.026, xref="x2 domain", yref="y2", text=spaced("GV Tau N", 2.5),
                  showarrow=False, xanchor="left", yanchor="middle", borderpad=0, font=gv_font))
tell_txt = "Telluric Standard × 0.1 + 0.7"
tell_font = dict(family=SERIF, size=25, color="black")
annos.append(dict(x=0.0331, y=0.8125, xref="x domain", yref="y", text=spaced(tell_txt, 4.0),
                  showarrow=False, xanchor="left", yanchor="middle", borderpad=0, font=tell_font))
annos.append(dict(x=0.0283, y=0.8136, xref="x2 domain", yref="y2", text=spaced(tell_txt, 4.0),
                  showarrow=False, xanchor="left", yanchor="middle", borderpad=0, font=tell_font))
# axis titles
annos.append(dict(x=0.499, y=-0.0688, xref="paper", yref="paper",
                  text=spaced("Topocentric Wavelength (μm)", 4.3, 20),
                  showarrow=False, xanchor="center", yanchor="middle", font=dict(family=SERIF, size=38, color="black")))
annos.append(dict(x=-0.0906, y=0.533, xref="paper", yref="paper", text=spaced("Normalized Flux", 6, 6),
                  textangle=-90, showarrow=False, xanchor="center", yanchor="middle",
                  font=dict(family=SERIF, size=38, color="black")))

axis_common = dict(showline=True, linecolor="black", linewidth=2, mirror="ticks", ticks="inside",
                   ticklen=18, tickwidth=1.5, tickcolor="black", showgrid=False, zeroline=False,
                   tickfont=dict(family="Liberation Sans", size=30, color="black"))
xminor = dict(ticks="inside", ticklen=9, tickwidth=1.5, tickcolor="black", dtick=0.001, showgrid=False)
yminor = dict(ticks="inside", ticklen=9, tickwidth=1.5, tickcolor="black", dtick=0.02, showgrid=False)

fig.update_layout(
    width=1278, height=1207,
    margin=dict(l=128, r=46, t=3, b=100),
    paper_bgcolor="white", plot_bgcolor="white",
    xaxis=dict(domain=[0, 1], anchor="y", range=[3.046198, 3.064693], dtick=0.005, tick0=3.0,
               minor=xminor, ticklabelstandoff=0, **axis_common),
    yaxis=dict(domain=[0.5631, 1.0], anchor="x", range=[0.6885, 1.05], dtick=0.1, tick0=0,
               minor=yminor, ticklabelstandoff=10, **axis_common),
    xaxis2=dict(domain=[0, 1], anchor="y2", range=[3.064197, 3.085193], dtick=0.005, tick0=3.0,
                minor=xminor, ticklabelstandoff=0, **axis_common),
    yaxis2=dict(domain=[0, 0.4366], anchor="x2", range=[0.6885, 1.05], dtick=0.1, tick0=0,
                minor=yminor, ticklabelstandoff=10, **axis_common),
    annotations=annos,
    showlegend=False,
)

fig.write_html("out.html", config={"displayModeBar": False},
               post_script="document.body.style.margin='0px';document.body.style.padding='0px';")
